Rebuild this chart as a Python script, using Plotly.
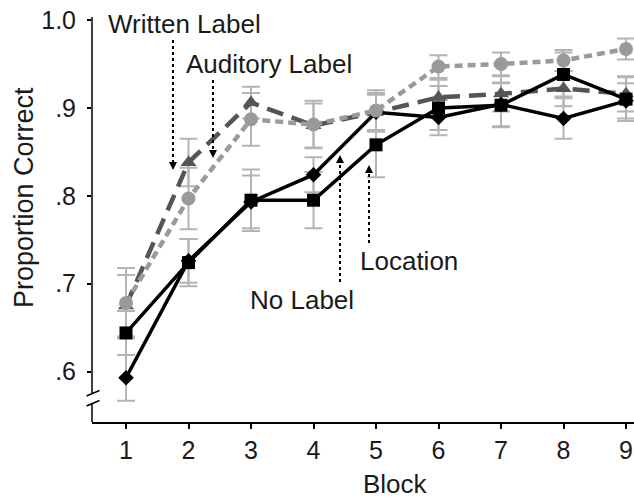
import plotly.graph_objects as go

blocks = [1, 2, 3, 4, 5, 6, 7, 8, 9]
tick_vals_y = [0.6, 0.7, 0.8, 0.9, 1.0]
tick_text_y = [".6", ".7", ".8", ".9", "1.0"]

written = [0.675, 0.838, 0.906, 0.880, 0.895, 0.912, 0.916, 0.922, 0.916]
written_err = [0.035, 0.027, 0.018, 0.025, 0.022, 0.020, 0.020, 0.020, 0.020]
auditory = [0.678, 0.797, 0.887, 0.881, 0.897, 0.947, 0.950, 0.954, 0.967]
auditory_err = [0.040, 0.035, 0.030, 0.027, 0.023, 0.013, 0.013, 0.012, 0.012]
nolabel = [0.593, 0.726, 0.793, 0.824, 0.895, 0.889, 0.904, 0.888, 0.908]
nolabel_err = [0.026, 0.025, 0.030, 0.020, 0.020, 0.020, 0.025, 0.023, 0.020]
location = [0.644, 0.724, 0.795, 0.795, 0.858, 0.900, 0.903, 0.938, 0.910]
location_err = [0.025, 0.027, 0.035, 0.032, 0.037, 0.025, 0.025, 0.025, 0.025]

FONT = "Liberation Sans, Arial, sans-serif"
ERR_COLOR = "#b4b4b4"

# plot geometry in pixels
W, H = 634, 498
L, R, T, B = 92, 0, 17, 76
PW, PH = W - L - R, H - T - B
XR = [0.456, 9.128]
YR = [0.5427, 1.0034]

def px2x(px):
    return XR[0] + (px - L) / PW * (XR[1] - XR[0])

def py2y(py):
    return YR[1] - (py - T) / PH * (YR[1] - YR[0])

def px2paper(px):
    return (px - L) / PW

def py2paper(py):
    return (H - B - py) / PH

fig = go.Figure()

series = [
    ("Written Label", written, written_err),
    ("No Label", nolabel, nolabel_err),
    ("Location", location, location_err),
    ("Auditory Label", auditory, auditory_err),
]
# error bars underneath everything
for name, vals, errs in series:
    fig.add_trace(go.Scatter(
        x=blocks, y=vals, mode="markers", marker=dict(size=1, opacity=0),
        error_y=dict(type="data", array=errs, visible=True, color=ERR_COLOR,
                     thickness=2, width=9),
        showlegend=False, hoverinfo="skip"))

fig.add_trace(go.Scatter(
    x=blocks, y=written, mode="lines+markers", name="Written Label",
    line=dict(color="#555555", width=4.5, dash="17px,9px"),
    marker=dict(symbol="triangle-up", size=14, color="#555555")))
fig.add_trace(go.Scatter(
    x=blocks, y=nolabel, mode="lines+markers", name="No Label",
    line=dict(color="black", width=3.5),
    marker=dict(symbol="diamond", size=12, color="black")))
fig.add_trace(go.Scatter(
    x=blocks, y=location, mode="lines+markers", name="Location",
    line=dict(color="black", width=3.5),
    marker=dict(symbol="square", size=13, color="black")))
fig.add_trace(go.Scatter(
    x=blocks, y=auditory, mode="lines+markers", name="Auditory Label",
    line=dict(color="#9a9a9a", width=4.5, dash="8px,5px"),
    marker=dict(symbol="circle", size=14, color="#9a9a9a")))

shapes = []
# y axis with break
shapes.append(dict(type="line", xref="paper", yref="paper", x0=0, x1=0,
                   y0=py2paper(393), y1=1, line=dict(color="black", width=1.5)))
shapes.append(dict(type="line", xref="paper", yref="paper", x0=0, x1=0,
                   y0=0, y1=py2paper(404), line=dict(color="black", width=1.5)))
for yb in (396, 406):
    shapes.append(dict(type="line", xref="paper", yref="paper",
                       x0=px2paper(86.5), x1=px2paper(99.5),
                       y0=py2paper(yb), y1=py2paper(yb - 5.5),
                       line=dict(color="black", width=1.5)))

# dotted pointer lines (pixel positions of start and tip)
pointers = [(173, 40, 170), (213, 80, 158), (340, 282, 155), (369, 243, 165)]
annotations = []
for px, p_start, p_tip in pointers:
    down = p_tip > p_start
    shapes.append(dict(type="line", xref="x", yref="y", x0=px2x(px), x1=px2x(px),
                       y0=py2y(p_start), y1=py2y(p_tip + (-6 if down else 6)),
                       line=dict(color="black", width=2, dash="dot")))
    annotations.append(dict(x=px2x(px), y=py2y(p_tip), xref="x", yref="y",
                            text="", showarrow=True, ax=0, ay=(-7 if down else 7),
                            arrowhead=2, arrowsize=1, arrowwidth=1.6,
                            arrowcolor="black"))

labels = [("Written Label", 184, 24), ("Auditory Label", 269, 64),
          ("No Label", 302, 300), ("Location", 409, 261)]
for txt, px, py in labels:
    annotations.append(dict(x=px2paper(px), y=py2paper(py), xref="paper", yref="paper",
                            text=txt, showarrow=False, xanchor="center", yanchor="middle",
                            font=dict(family=FONT, size=26, color="#1a1a1a")))

annotations.append(dict(x=px2paper(24), y=py2paper(198), xref="paper", yref="paper",
                        text="Proportion Correct", textangle=-90, showarrow=False,
                        xanchor="center", yanchor="middle",
                        font=dict(family=FONT, size=27, color="#1a1a1a")))
annotations.append(dict(x=px2paper(395), y=py2paper(484), xref="paper", yref="paper",
                        text="Block", showarrow=False, xanchor="center", yanchor="middle",
                        font=dict(family=FONT, size=26, color="#1a1a1a")))

fig.update_layout(
    width=W, height=H,
    margin=dict(l=L, r=R, t=T, b=B, pad=0),
    plot_bgcolor="white", paper_bgcolor="white",
    showlegend=False, hovermode=False,
    shapes=shapes, annotations=annotations,
    xaxis=dict(range=XR, tickvals=blocks, ticktext=[str(b) for b in blocks],
               showline=True, linecolor="black", linewidth=1.5,
               ticks="outside", ticklen=5, tickwidth=1.5, tickcolor="black",
               showgrid=False, zeroline=False,
               tickfont=dict(family=FONT, size=25, color="#1a1a1a")),
    yaxis=dict(range=YR, tickvals=tick_vals_y, ticktext=tick_text_y,
               showline=False, ticks="outside", ticklen=4, tickwidth=1.5,
               tickcolor="black", showgrid=False, zeroline=False,
               ticklabelstandoff=6,
               tickfont=dict(family=FONT, size=25, color="#1a1a1a")),
)

fig.write_html("out.html", config={"displayModeBar": False},
               post_script="document.body.style.margin='0px';document.body.style.overflow='hidden';")
